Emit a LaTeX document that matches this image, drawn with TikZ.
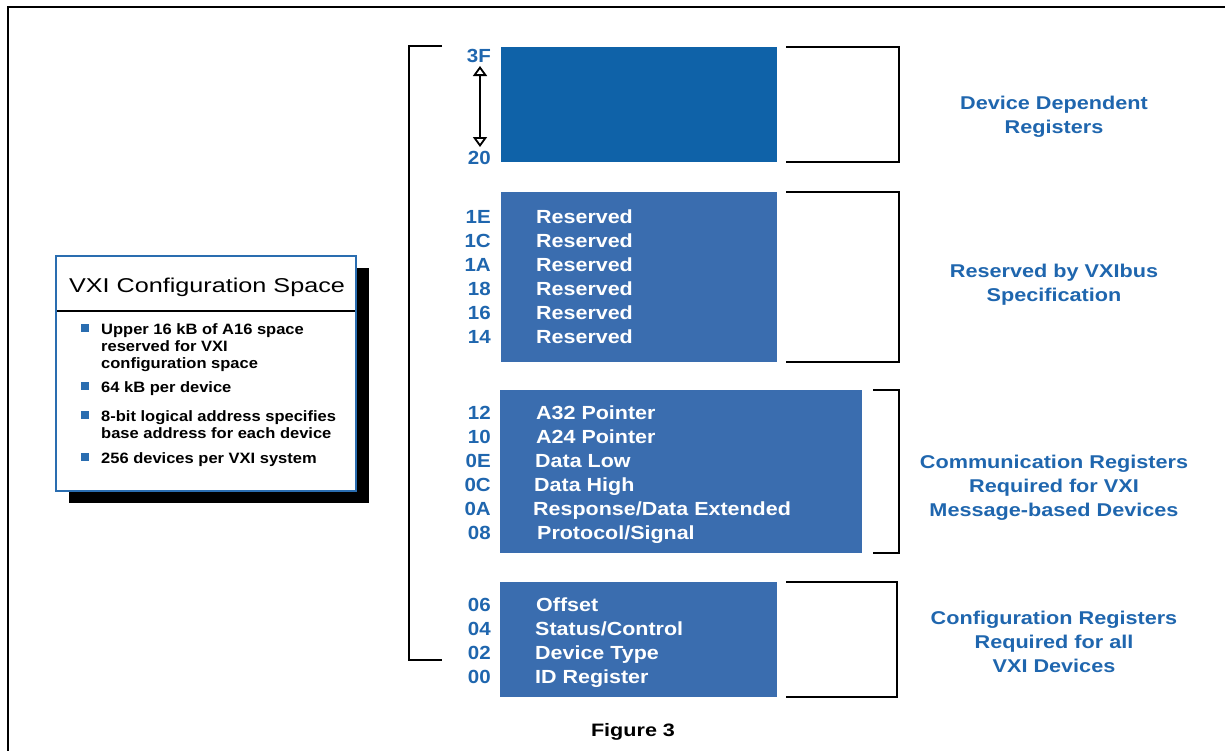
\documentclass[tikz,border=0pt]{standalone}
\usepackage{fontspec}
\setmainfont{Liberation Sans}
\newfontfamily\regf[FakeStretch=1.13]{Liberation Sans}
\newfontfamily\hexf[FakeStretch=1.08]{Liberation Sans}
\newfontfamily\sidef[FakeStretch=1.17]{Liberation Sans}
\newfontfamily\bulf[FakeStretch=1.10]{Liberation Sans}
\newfontfamily\titlef[FakeStretch=1.26]{Liberation Sans}
\newfontfamily\capf[FakeStretch=1.2]{Liberation Sans}
\usetikzlibrary{arrows.meta}
\definecolor{darkblue}{HTML}{0F62A8}
\definecolor{regblue}{HTML}{3A6DAF}
\definecolor{labblue}{HTML}{1F66AE}
\definecolor{frameblue}{HTML}{2A6DB0}
\begin{document}
\begin{tikzpicture}[x=1pt,y=-1pt,
  hex/.style={font=\hexf\bfseries\fontsize{19}{19}\selectfont, text=labblue, anchor=base east, inner sep=0pt},
  reg/.style={font=\regf\bfseries\fontsize{19}{19}\selectfont, text=white, anchor=base west, inner sep=0pt},
  side/.style={font=\sidef\bfseries\fontsize{18.5}{24}\selectfont, text=labblue, align=center, inner sep=0pt},
  blk/.style={fill=#1, draw=none, inner sep=0pt},
  brk/.style={line width=2pt, black},
  bul/.style={font=\bulf\bfseries\fontsize{15}{17}\selectfont, anchor=base west, inner sep=0pt},
  sq/.style={fill=frameblue, minimum size=8pt, inner sep=0pt},
  vtip/.tip={Triangle[open,width=14pt,length=10pt,line width=1.8pt]},
]
\useasboundingbox (0,0) rectangle (1225,750);
% outer frame
\draw[line width=2.5pt, black] (8,752) -- (8,7) -- (1227,7);

% big left bracket
\draw[brk] (442,46) -- (409,46) -- (409,660) -- (442,660);

% blocks
\node[blk=darkblue, minimum width=276pt, minimum height=115pt] (b1) at (639,104.5) {};
\node[blk=regblue, minimum width=276pt, minimum height=170pt] (b2) at (639,277) {};
\node[blk=regblue, minimum width=362pt, minimum height=163pt] (b3) at (681,471.5) {};
\node[blk=regblue, minimum width=277pt, minimum height=115pt] (b4) at (638.5,639.5) {};

% right brackets
\draw[brk] (786,47) -- (899,47) -- (899,162) -- (786,162);
\draw[brk] (786,192) -- (899,192) -- (899,362) -- (786,362);
\draw[brk] (873,390) -- (899,390) -- (899,553) -- (873,553);
\draw[brk] (786,582) -- (897,582) -- (897,697) -- (786,697);

% block 1 labels and arrow
\node[hex] (h3F) at (491,62) {3F};
\node[hex] (h20) at (491,164) {20};
\coordinate (atop) at (480,66);
\coordinate (abot) at (480,147);
\draw[line width=2pt, {vtip}-{vtip}] (atop) -- (abot);

% block 2
\foreach \h/\y [count=\i] in {1E/223,1C/247,1A/271,18/295,16/319,14/343}{
  \node[hex] (hr\i) at (491,\y) {\h};
  \node[reg] (r\i) at (536,\y) {Reserved};
}
% block 3
\node[hex] (h12) at (491,419) {12}; \node[reg] (t12) at (536,419) {A32 Pointer};
\node[hex] (h10) at (491,443) {10}; \node[reg] (t10) at (536,443) {A24 Pointer};
\node[hex] (h0E) at (491,467) {0E}; \node[reg] (t0E) at (535,467) {Data Low};
\node[hex] (h0C) at (491,491) {0C}; \node[reg] (t0C) at (534,491) {Data High};
\node[hex] (h0A) at (491,515) {0A}; \node[reg] (t0A) at (533,515) {Response/Data Extended};
\node[hex] (h08) at (491,539) {08}; \node[reg] (t08) at (537,539) {Protocol/Signal};
% block 4
\node[hex] (h06) at (491,611) {06}; \node[reg] (t06) at (536,611) {Offset};
\node[hex] (h04) at (491,635) {04}; \node[reg] (t04) at (535,635) {Status/Control};
\node[hex] (h02) at (491,659) {02}; \node[reg] (t02) at (535,659) {Device Type};
\node[hex] (h00) at (491,683) {00}; \node[reg] (t00) at (535,683) {ID Register};

% side labels
\node[side] (s1) at (1054,117) {Device Dependent\\Registers};
\node[side] (s2) at (1054,285) {Reserved by VXIbus\\Specification};
\node[side] (s3) at (1054,488) {Communication Registers\\Required for VXI\\Message-based Devices};
\node[side] (s4) at (1054,642) {Configuration Registers\\Required for all\\VXI Devices};

% caption
\node[font=\capf\bfseries\fontsize{18}{18}\selectfont, inner sep=0pt] (cap) at (633,732) {Figure 3};

% left info box
\fill[black] (69,268) rectangle (369,503);
\node[fill=white, draw=frameblue, line width=2pt, minimum width=300pt, minimum height=235pt, inner sep=0pt] (info) at (206,373.5) {};
\node[font=\titlef\fontsize{20}{20}\selectfont, inner sep=0pt] (title) at (207,287) {VXI Configuration Space};
\draw[line width=2pt, black] (57,311) -- (355,311);
\node[sq] (q1) at (85,328) {};
\node[bul] (l1a) at (101,334) {Upper 16 kB of A16 space};
\node[bul] (l1b) at (101,351) {reserved for VXI};
\node[bul] (l1c) at (101,368) {configuration space};
\node[sq] (q2) at (85,386) {};
\node[bul] (l2a) at (101,392) {64 kB per device};
\node[sq] (q3) at (85,415) {};
\node[bul] (l3a) at (101,421) {8-bit logical address specifies};
\node[bul] (l3b) at (101,438) {base address for each device};
\node[sq] (q4) at (85,457) {};
\node[bul] (l4a) at (101,463) {256 devices per VXI system};
\end{tikzpicture}
\end{document}
